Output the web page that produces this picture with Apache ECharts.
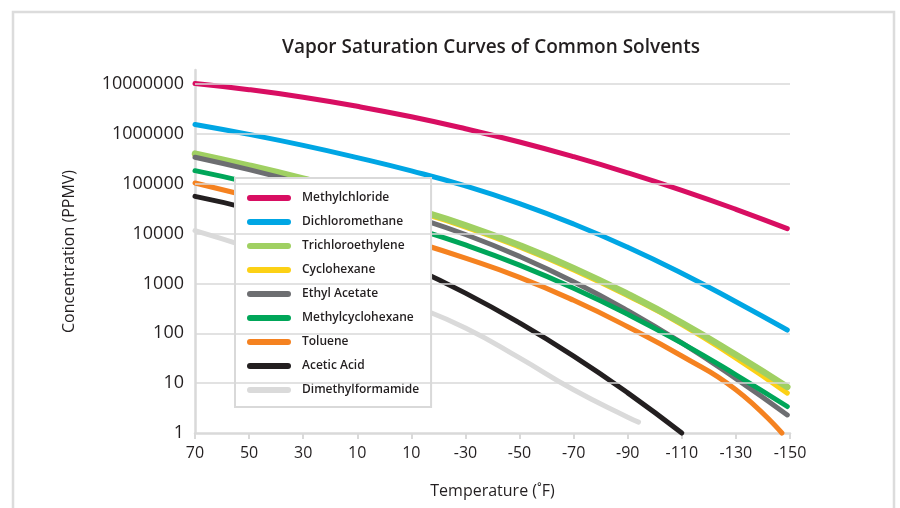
<!DOCTYPE html>
<html>
<head>
<meta charset="utf-8">
<title>Vapor Saturation Curves</title>
<script src="https://cdn.jsdelivr.net/npm/echarts@6/dist/echarts.min.js"></script>
<style>
  html, body { margin: 0; padding: 0; background: #fff; }
  #main { width: 900px; height: 508px; }
</style>
</head>
<body>
<div id="main"></div>
<script>
var tempsFull = [70, 50, 30, 10, -10, -30, -50, -70, -90, -110, -130, -149];
var tempsToluene = [70, 50, 30, 10, -10, -30, -50, -70, -90, -110, -130, -147];
var tempsAcetic = [70, 50, 30, 10, -10, -30, -50, -70, -90, -110];
var tempsDmf = [70, 50, 30, 10, -10, -30, -50, -70, -90, -94];

// concentration (PPMV)
var methylchloride = [10200000, 7670000, 5400000, 3550000, 2190000, 1260000, 684000, 347000, 165000, 73500, 30600, 12500];
var dichloromethane = [1540000, 973000, 586000, 333000, 180000, 90000, 39800, 15500, 5310, 1600, 428, 116];
var trichloroethylene = [400000, 230000, 126000, 65600, 32000, 14600, 5800, 2020, 612, 162, 37, 8.4];
var cyclohexane = [369000, 212000, 116000, 60500, 29500, 13500, 5350, 1860, 565, 150, 31.5, 6.3];
var ethylAcetate = [339000, 191000, 100000, 49000, 22400, 9550, 3480, 1080, 284, 64, 12.3, 2.3];
var methylcyclohexane = [182000, 105000, 56000, 28000, 13300, 5900, 2320, 798, 240, 63.5, 14.7, 3.4];
var toluene = [103000, 56000, 29500, 14800, 7100, 3200, 1320, 457, 135, 35, 7.4, 1];
var aceticAcid = [55600, 31300, 15000, 6150, 2140, 637, 161, 34.8, 6.38, 1];
var dimethylformamide = [11400, 5270, 2280, 938, 369, 128, 32.1, 7.36, 2.07, 1.65];

var xTickLabels = ['70', '50', '30', '10', '10', '-30', '-50', '-70', '-90', '-110', '-130', '-150'];
var yTickValues = [1, 10, 100, 1000, 10000, 100000, 1000000, 10000000];

var solvents = [
  { name: 'Methylchloride', color: '#d80e62', temps: tempsFull, values: methylchloride },
  { name: 'Dichloromethane', color: '#00a6e4', temps: tempsFull, values: dichloromethane },
  { name: 'Trichloroethylene', color: '#a0d062', temps: tempsFull, values: trichloroethylene, width: 6.5 },
  { name: 'Cyclohexane', color: '#fcd116', temps: tempsFull, values: cyclohexane, z: 1 },
  { name: 'Ethyl Acetate', color: '#6d6e71', temps: tempsFull, values: ethylAcetate },
  { name: 'Methylcyclohexane', color: '#00a659', temps: tempsFull, values: methylcyclohexane },
  { name: 'Toluene', color: '#f58220', temps: tempsToluene, values: toluene },
  { name: 'Acetic Acid', color: '#231f20', temps: tempsAcetic, values: aceticAcid },
  { name: 'Dimethylformamide', color: '#dadada', temps: tempsDmf, values: dimethylformamide }
];

var txt = '#231f20';
var axisGray = '#d9d9d9';
var font = 'Open Sans';

// x axis runs in "degrees below 70" so ticks start from min 0
var series = [{
  // gridlines only, kept under the curves
  type: 'line', name: 'grid', data: [], z: 0, silent: true,
  markLine: {
    silent: true, symbol: 'none', label: { show: false },
    lineStyle: { color: axisGray, width: 1.5, type: 'solid' },
    data: yTickValues.slice(1).map(function (v) { return { yAxis: v }; })
  }
}];
solvents.forEach(function (s) {
  series.push({
    type: 'line',
    name: s.name,
    smooth: true,
    symbol: 'none',
    clip: false,
    z: s.z || 2,
    color: s.color,
    lineStyle: { width: s.width || 5, cap: 'round', join: 'round' },
    data: s.temps.map(function (t, i) { return [70 - t, s.values[i]]; })
  });
});

var myChart = echarts.init(document.getElementById('main'));
var option = {
  animation: false,
  backgroundColor: '#fff',
  textStyle: { fontFamily: font },
  graphic: [{
    type: 'rect', z: -1,
    shape: { x: 13, y: 12, width: 881, height: 530 },
    style: { fill: 'none', stroke: '#dcdcdc', lineWidth: 2.5 }
  }],
  title: {
    text: 'Vapor Saturation Curves of Common Solvents',
    left: 491, top: 38, textAlign: 'center', padding: 0,
    textStyle: { fontFamily: font, fontSize: 19, fontWeight: 600, color: txt }
  },
  legend: {
    orient: 'vertical',
    left: 235, top: 178,
    padding: [13, 12, 10, 12],
    backgroundColor: '#fff',
    borderColor: axisGray, borderWidth: 2,
    itemWidth: 44, itemHeight: 6, itemGap: 10,
    icon: 'path://M3,0 L41,0 A3,3,0,0,1,41,6 L3,6 A3,3,0,0,1,3,0 Z',
    textStyle: { fontFamily: font, fontSize: 12, fontWeight: 600, color: txt, lineHeight: 14, padding: [0, 0, 0, 6] },
    data: solvents.map(function (s) { return s.name; })
  },
  grid: { left: 195, right: 110, top: 70, bottom: 75 },
  xAxis: {
    type: 'value', min: 0, max: 220, interval: 20,
    name: 'Temperature (˚F)', nameLocation: 'middle', nameGap: 50,
    nameTextStyle: { fontFamily: font, fontSize: 16, color: txt },
    axisLine: { lineStyle: { color: axisGray, width: 2.5 } },
    axisTick: { show: true, length: 6, lineStyle: { color: axisGray, width: 2 } },
    splitLine: { show: false },
    axisLabel: {
      margin: 12, fontFamily: font, fontSize: 16, color: txt,
      formatter: function (v) { return xTickLabels[Math.round(v / 20)]; }
    }
  },
  yAxis: {
    type: 'log', logBase: 10, min: 1, max: 19000000,
    name: 'Concentration (PPMV)', nameLocation: 'middle', nameGap: 118, nameRotate: 90,
    nameTextStyle: { fontFamily: font, fontSize: 16, color: txt },
    axisLine: { show: true, lineStyle: { color: axisGray, width: 2.5 } },
    axisTick: { show: false },
    splitLine: { show: false },
    axisLabel: {
      margin: 11, fontFamily: font, fontSize: 18, color: txt, showMaxLabel: false,
      formatter: function (v) { return String(Math.round(v)); }
    }
  },
  series: series
};
myChart.setOption(option);
</script>
</body>
</html>
